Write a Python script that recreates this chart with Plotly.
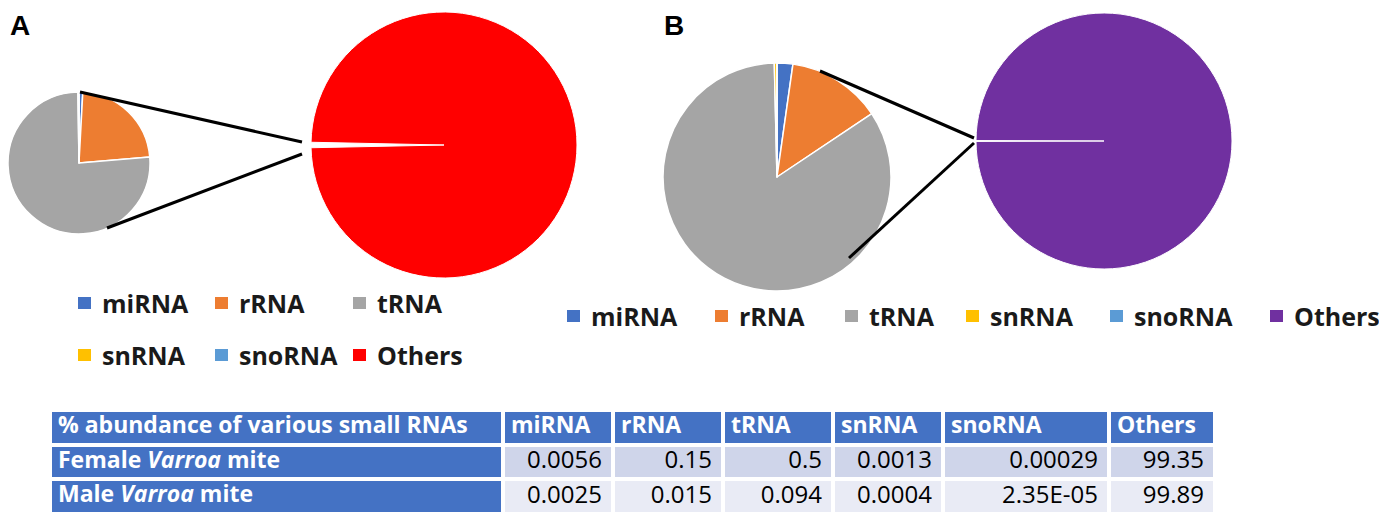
import plotly.graph_objects as go

# the page puts the plot 8px in from the top-left corner of the window
OFF = 8
W, H = 1387 - OFF, 515 - OFF

# data
rna_classes = ['miRNA', 'rRNA', 'tRNA', 'snRNA', 'snoRNA']
female_pct = [0.0056, 0.15, 0.5, 0.0013, 0.00029]
male_pct = [0.0025, 0.015, 0.094, 0.0004, 0.0000235]
female_others = 99.35
male_others = 99.89
row_labels = ['Female <i>Varroa</i> mite', 'Male <i>Varroa</i> mite']
table_title = '% abundance of various small RNAs'

class_colors = ['#4472C4', '#ED7D31', '#A5A5A5', '#FFC000', '#5B9BD5']
others_color_a = '#FF0000'
others_color_b = '#7030A0'
table_blue = '#4472C4'
row_fills = ['#CFD5EA', '#E9EBF5']
col_widths = [453, 110, 110, 110, 110, 166, 106]
FONT = 'Open Sans'


def px_x(x):
    return (x - OFF) / W


def px_y(y):
    return 1 - (y - OFF) / H


def px_domain(x0, y0, x1, y1):
    return dict(x=[px_x(x0), px_x(x1)], y=[px_y(y1), px_y(y0)])


def small_pie(values, domain):
    return go.Pie(
        labels=rna_classes, values=values,
        marker=dict(colors=class_colors, line=dict(color='white', width=1.5)),
        sort=False, direction='clockwise', rotation=0,
        textinfo='none', hovertemplate='%{label}: %{value}%<extra></extra>',
        domain=domain, showlegend=False
    )


def others_pie(small_values, others, color, domain):
    rest = sum(small_values)
    gap_deg = 360 * rest / (rest + others)
    return go.Pie(
        labels=['small RNAs', 'Others'], values=[rest, others],
        marker=dict(colors=['white', color], line=dict(color='white', width=1)),
        sort=False, direction='clockwise', rotation=270 - gap_deg / 2,
        textinfo='none', hovertemplate='%{label}: %{value}%<extra></extra>',
        domain=domain, showlegend=False
    )


def fmt(v):
    return f'{v:.2E}' if v < 1e-4 else str(v)


fig = go.Figure()

fig.add_trace(small_pie(female_pct, px_domain(8, 92, 150, 234)))
fig.add_trace(others_pie(female_pct, female_others, others_color_a, px_domain(311, 12, 577, 278)))
fig.add_trace(small_pie(male_pct, px_domain(663, 63, 891, 291)))
fig.add_trace(others_pie(male_pct, male_others, others_color_b, px_domain(976, 13, 1232, 269)))

# table: coloured cells as a heatmap (x in pixel-like units), text as scatter text
table_rows = [
    [table_title] + rna_classes + ['Others'],
    [row_labels[0]] + [fmt(v) for v in female_pct] + [fmt(female_others)],
    [row_labels[1]] + [fmt(v) for v in male_pct] + [fmt(male_others)],
]
x_edges = [0]
for w in col_widths:
    x_edges.append(x_edges[-1] + w)
n_rows, n_cols = len(table_rows), len(col_widths)
fill_code = [[0 if (r == 0 or c == 0) else r for c in range(n_cols)] for r in range(n_rows)]

fig.add_trace(go.Heatmap(
    x=x_edges, y=list(range(n_rows + 1)), z=fill_code,
    colorscale=[[0, table_blue], [0.5, row_fills[0]], [1, row_fills[1]]],
    zmin=0, zmax=2, showscale=False, xgap=4, ygap=4, hoverinfo='skip'
))

left_x, left_y, left_t = [], [], []
right_x, right_y, right_t = [], [], []
for r, row in enumerate(table_rows):
    for c, txt in enumerate(row):
        if r == 0 or c == 0:
            left_x.append(x_edges[c] + 8)
            left_y.append(r + 0.5)
            left_t.append(f'<b>{txt}</b>')
        else:
            right_x.append(x_edges[c + 1] - 11)
            right_y.append(r + 0.5)
            right_t.append(txt)

fig.add_trace(go.Scatter(
    x=left_x, y=left_y, text=left_t, mode='text', textposition='middle right',
    textfont=dict(family=FONT, size=23, color='white'), hoverinfo='skip', showlegend=False
))
fig.add_trace(go.Scatter(
    x=right_x, y=right_y, text=right_t, mode='text', textposition='middle left',
    textfont=dict(family=FONT, size=24, color='black'), hoverinfo='skip', showlegend=False
))

shapes = []
annotations = []

# connector lines from the small pies to the "Others" pies
for x0, y0, x1, y1 in [(80, 92, 302, 142), (107, 228, 302, 154),
                       (820, 71, 974, 138), (849, 258, 974, 143)]:
    shapes.append(dict(type='line', xref='paper', yref='paper',
                       x0=px_x(x0), y0=px_y(y0), x1=px_x(x1), y1=px_y(y1),
                       line=dict(color='black', width=3)))

# hand-placed legends (A: two rows, B: one row)
legend_a = [(78, 303), (215, 303), (353, 303), (78, 355), (215, 355), (353, 355)]
legend_b = [(567, 316), (715, 316), (845, 316), (966, 316), (1110, 316), (1270, 316)]
labels_all = rna_classes + ['Others']
for pos, others_color in [(legend_a, others_color_a), (legend_b, others_color_b)]:
    colors = class_colors + [others_color]
    for (mx, my), lab, col in zip(pos, labels_all, colors):
        shapes.append(dict(type='rect', xref='paper', yref='paper',
                           x0=px_x(mx), x1=px_x(mx + 13), y0=px_y(my + 6), y1=px_y(my - 6),
                           fillcolor=col, line=dict(width=0)))
        annotations.append(dict(x=px_x(mx + 22), y=px_y(my), xref='paper', yref='paper',
                                xanchor='left', yanchor='middle', showarrow=False,
                                text=f'<b>{lab}</b>',
                                font=dict(family=FONT, size=25, color='#1a1a1a')))

# panel letters
for txt, x in [('A', 8), ('B', 662)]:
    annotations.append(dict(x=px_x(x), y=1, xref='paper', yref='paper',
                            xanchor='left', yanchor='top', showarrow=False,
                            text=f'<b>{txt}</b>',
                            font=dict(family='Liberation Sans', size=28, color='black')))

fig.update_layout(
    width=W, height=H,
    margin=dict(l=0, r=0, t=0, b=0),
    paper_bgcolor='white', plot_bgcolor='white',
    showlegend=False,
    xaxis=dict(domain=[px_x(50), px_x(1215)], range=[0, x_edges[-1]],
               visible=False, fixedrange=True),
    yaxis=dict(domain=[px_y(514), px_y(410)], range=[n_rows, 0],
               visible=False, fixedrange=True),
    shapes=shapes,
    annotations=annotations
)

fig.write_html("out.html")
